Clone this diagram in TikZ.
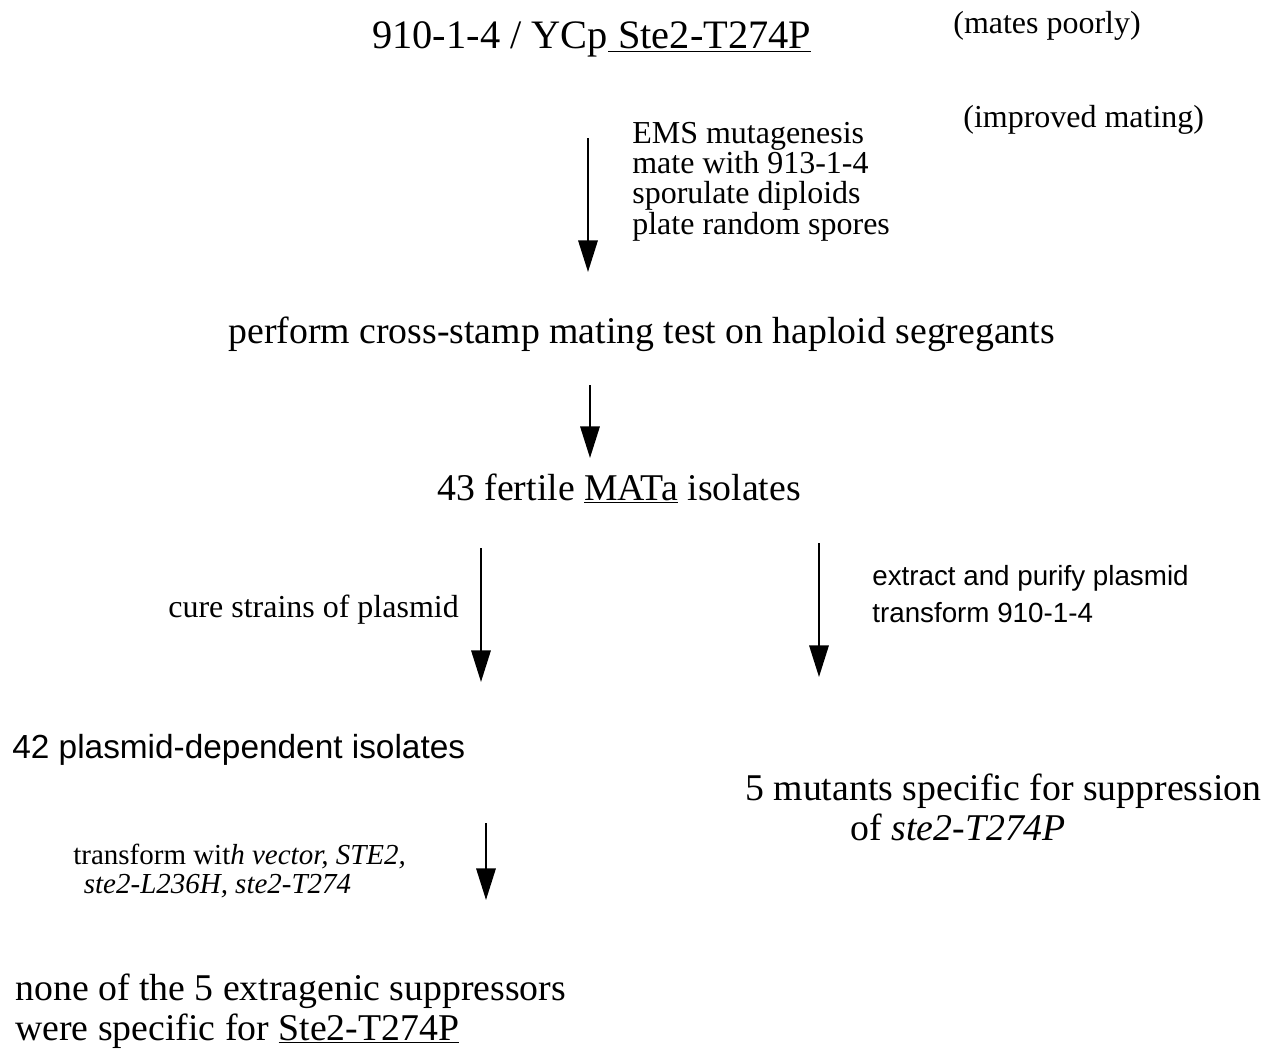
\documentclass[tikz,border=0pt]{standalone}
\usepackage{fontspec}
\setmainfont{Liberation Serif}
\setsansfont{Liberation Sans}
\usetikzlibrary{arrows.meta}
\definecolor{col_000000}{RGB}{0,0,0}
\definecolor{col_ffffff}{RGB}{255,255,255}
\newcommand{\serifbig}{\fontsize{21.5}{22.5}\selectfont}
\newcommand{\seriftop}{\fontsize{23}{24}\selectfont}
\newcommand{\serifnote}{\fontsize{18.2}{17.2}\selectfont}
\newcommand{\serifsmall}{\fontsize{16.5}{16}\selectfont}
\newcommand{\sansbig}{\sffamily\fontsize{19}{20}\selectfont}
\newcommand{\sansnote}{\sffamily\fontsize{15.8}{21}\selectfont}

\begin{document}
\begin{tikzpicture}[x=0.02cm,y=-0.02cm]
\tikzset{
  steptext/.style={anchor=base west, inner sep=0pt, align=left, text=col_000000},
  flowarrow/.style={-{Triangle[length=18pt,width=11pt]}, line width=1.3pt, draw=col_000000},
}
\useasboundingbox[fill=col_ffffff] (0,0) rectangle (1265,1055);
\node[steptext, font=\seriftop] (strain) at (372,48) {910-1-4 / YCp\underline{\ Ste2-T274P}};     %% starting strain
\node[steptext, font=\serifnote] (poorly) at (953,33) {(mates poorly)};
\node[steptext, font=\serifnote] (improved) at (963,127) {(improved mating)};
\node[steptext, font=\serifnote] (ems) at (632,234) {EMS mutagenesis\\ mate with 913-1-4\\ sporulate diploids\\ plate random spores};     %% base = last line
\node[steptext, font=\serifbig] (stamp) at (228,343) {perform cross-stamp mating test on haploid segregants};
\node[steptext, font=\serifbig] (fertile) at (437,500) {43 fertile \underline{MATa} isolates};
\node[steptext, font=\serifnote] (cure) at (168,617) {cure strains of plasmid};
\node[steptext, font=\sansnote] (extract) at (872,622) {extract and purify plasmid\\ transform 910-1-4};
\node[steptext, font=\sansbig] (dependent) at (12,758) {42 plasmid-dependent isolates};
\node[steptext, font=\serifbig] (mutants) at (745,840) {5 mutants specific for suppression\\ \hspace*{60pt}of \textit{ste2-T274P}};
\node[steptext, font=\serifsmall] (vector) at (73,893) {transform wit\textit{h vector, STE2,}\\ \hspace*{6pt}\textit{ste2-L236H, ste2-T274}};
\node[steptext, font=\serifbig] (none) at (15,1040) {none of the 5 extragenic suppressors\\ were specific for \underline{Ste2-T274P}};
%% arrow ends
\coordinate (a1s) at (588,138);
\coordinate (a1e) at (588,272);
\coordinate (a2s) at (590,385);
\coordinate (a2e) at (590,458);
\coordinate (a3s) at (481,548);
\coordinate (a3e) at (481,682);
\coordinate (a4s) at (819,543);
\coordinate (a4e) at (819,677);
\coordinate (a5s) at (486,823);
\coordinate (a5e) at (486,900);
\draw[flowarrow] (a1s) -- (a1e);
\draw[flowarrow] (a2s) -- (a2e);
\draw[flowarrow] (a3s) -- (a3e);
\draw[flowarrow] (a4s) -- (a4e);
\draw[flowarrow] (a5s) -- (a5e);
\end{tikzpicture}
\end{document}
